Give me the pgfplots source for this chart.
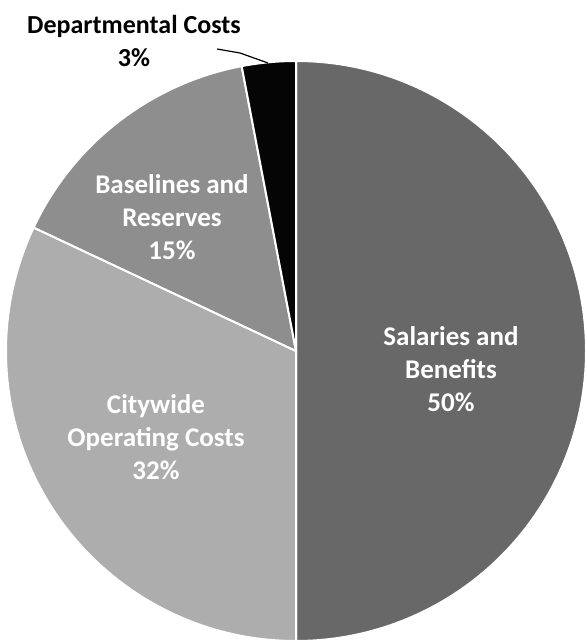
\documentclass[border=0pt]{standalone}
\usepackage{pgfplots}
\pgfplotsset{compat=1.18}
\usepackage{fontspec}
\setmainfont{Carlito}
\definecolor{csal}{HTML}{686868}
\definecolor{ccity}{HTML}{ADADAD}
\definecolor{cbase}{HTML}{8E8E8E}
\definecolor{cdept}{HTML}{050505}
\begin{document}
\begin{tikzpicture}
\begin{axis}[hide axis, x=0.5pt, y=0.5pt, xmin=0, xmax=585, ymin=0, ymax=643, clip=false]
\path (axis cs:0,0) rectangle (axis cs:585,643);
% pie: centre (296,292) in axis units, radius 290 units = 145pt
\gdef\angS{90}
\foreach \v/\col in {50/csal, 32/ccity, 15/cbase, 3/cdept}{
  \pgfmathsetmacro{\angE}{\angS-3.6*\v}
  \edef\doit{\noexpand\fill[\col, draw=white, line width=1pt] (axis cs:296,292) -- ++(\angS:145pt) arc[start angle=\angS, end angle=\angE, radius=145pt] -- cycle;}
  \doit
  \xdef\angS{\angE}
}
\node[text=white, font=\bfseries\fontsize{13.5}{16.5}\selectfont, align=center] at (axis cs:451,274) {Salaries and\\Benefits\\50\%};
\node[text=white, font=\bfseries\fontsize{13.5}{16.5}\selectfont, align=center] at (axis cs:156,206) {Citywide\\Operating Costs\\32\%};
\node[text=white, font=\bfseries\fontsize{13.5}{16.5}\selectfont, align=center] at (axis cs:172,426) {Baselines and\\Reserves\\15\%};
\node[text=black, font=\bfseries\fontsize{13}{16.5}\selectfont, align=center] at (axis cs:134,602) {Departmental Costs\\3\%};
\draw[black, line width=0.6pt] (axis cs:217,594) -- (axis cs:240,590) -- (axis cs:268,580);
\end{axis}
\end{tikzpicture}
\end{document}
